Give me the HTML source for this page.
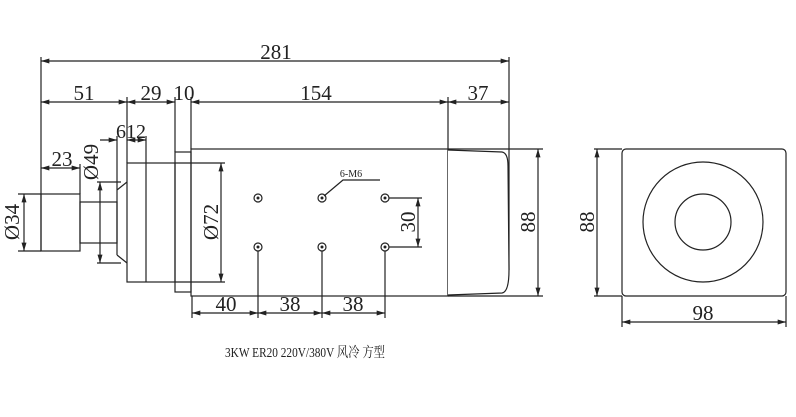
<!DOCTYPE html>
<html><head><meta charset="utf-8"><style>
html,body{margin:0;padding:0;background:#fff;}
svg{display:block;}
text{font-family:"Liberation Serif","Noto Serif CJK SC",serif;fill:#222;}
</style></head><body>
<svg width="796" height="417" viewBox="0 0 796 417" xmlns="http://www.w3.org/2000/svg">
<defs>
<marker id="a" viewBox="0 0 10 6" refX="10" refY="3" markerWidth="9" markerHeight="5" orient="auto-start-reverse" markerUnits="userSpaceOnUse"><path d="M0,0 L10,3 L0,6 Z" fill="#222"/></marker>
</defs>
<g stroke="#222" stroke-width="1.2" fill="none">
<!-- extension lines top -->
<line x1="41" y1="57" x2="41" y2="251"/>
<line x1="509" y1="57" x2="509" y2="270"/>
<line x1="127" y1="97" x2="127" y2="163"/>
<line x1="175" y1="97" x2="175" y2="152"/>
<line x1="191" y1="97" x2="191" y2="149"/>
<line x1="448" y1="97" x2="448" y2="296"/>
<line x1="146" y1="136" x2="146" y2="282"/>
<line x1="117" y1="136" x2="117" y2="190"/>
<line x1="80" y1="164" x2="80" y2="194"/>
<!-- dims top -->
<line x1="41" y1="61" x2="509" y2="61" marker-start="url(#a)" marker-end="url(#a)"/>
<line x1="41" y1="102" x2="127" y2="102" marker-start="url(#a)" marker-end="url(#a)"/>
<line x1="127" y1="102" x2="175" y2="102" marker-start="url(#a)" marker-end="url(#a)"/>
<line x1="191" y1="102" x2="200" y2="102" marker-start="url(#a)"/>
<line x1="200" y1="102" x2="448" y2="102" marker-end="url(#a)"/>
<line x1="448" y1="102" x2="509" y2="102" marker-start="url(#a)" marker-end="url(#a)"/>
<line x1="100" y1="140" x2="117" y2="140" marker-end="url(#a)"/>
<line x1="127" y1="140" x2="146" y2="140" marker-start="url(#a)" marker-end="url(#a)"/>
<line x1="41" y1="168" x2="80" y2="168" marker-start="url(#a)" marker-end="url(#a)"/>
<!-- collet & shaft -->
<rect x="41" y="194" width="39" height="57"/>
<rect x="80" y="202" width="37" height="41"/>
<path d="M117,190 L127,182 M117,255 L127,263 M117,190 L117,255"/>
<!-- front body -->
<rect x="127" y="163" width="48" height="119"/>
<rect x="175" y="152" width="16" height="140"/>
<rect x="191" y="149" width="257" height="147"/>
<line x1="448" y1="149" x2="543" y2="149"/>
<line x1="448" y1="296" x2="543" y2="296"/>
<line x1="175" y1="163" x2="225" y2="163"/>
<line x1="175" y1="282" x2="225" y2="282"/>
<path d="M448,150 L502,152 Q508,153 508,166 L509,270 Q509,292 502,293 L448,295" fill="#fff"/>
<!-- Ø34 -->
<line x1="18" y1="194" x2="41" y2="194"/>
<line x1="18" y1="251" x2="41" y2="251"/>
<line x1="24" y1="194" x2="24" y2="251" marker-start="url(#a)" marker-end="url(#a)"/>
<!-- Ø49 -->
<line x1="97" y1="182" x2="121" y2="182"/>
<line x1="97" y1="263" x2="121" y2="263"/>
<line x1="100" y1="182" x2="100" y2="263" marker-start="url(#a)" marker-end="url(#a)"/>
<!-- Ø72 -->
<line x1="221" y1="163" x2="221" y2="282" marker-start="url(#a)" marker-end="url(#a)"/>
<!-- 88 side -->
<line x1="538" y1="149" x2="538" y2="296" marker-start="url(#a)" marker-end="url(#a)"/>
<!-- holes -->
<g stroke-width="1.2">
<circle cx="258" cy="198" r="4"/><circle cx="322" cy="198" r="4"/><circle cx="385" cy="198" r="4"/>
<circle cx="258" cy="247" r="4"/><circle cx="322" cy="247" r="4"/><circle cx="385" cy="247" r="4"/>
</g>
<g fill="#222" stroke="none">
<circle cx="258" cy="198" r="1.5"/><circle cx="322" cy="198" r="1.5"/><circle cx="385" cy="198" r="1.5"/>
<circle cx="258" cy="247" r="1.5"/><circle cx="322" cy="247" r="1.5"/><circle cx="385" cy="247" r="1.5"/>
</g>
<!-- 6-M6 leader -->
<path d="M324,196 L343,180 L380,180"/>
<!-- 30 dim -->
<line x1="389" y1="198" x2="422" y2="198"/>
<line x1="389" y1="247" x2="422" y2="247"/>
<line x1="418" y1="198" x2="418" y2="247" marker-start="url(#a)" marker-end="url(#a)"/>
<!-- bottom dims -->
<line x1="192" y1="296" x2="192" y2="318"/>
<line x1="258" y1="251" x2="258" y2="318"/>
<line x1="322" y1="251" x2="322" y2="318"/>
<line x1="385" y1="251" x2="385" y2="318"/>
<line x1="192" y1="313" x2="258" y2="313" marker-start="url(#a)" marker-end="url(#a)"/>
<line x1="258" y1="313" x2="322" y2="313" marker-start="url(#a)" marker-end="url(#a)"/>
<line x1="322" y1="313" x2="385" y2="313" marker-start="url(#a)" marker-end="url(#a)"/>
<!-- end view -->
<rect x="622" y="149" width="164" height="147" rx="4"/>
<circle cx="703" cy="222" r="60"/>
<circle cx="703" cy="222" r="28"/>
<line x1="594" y1="149" x2="622" y2="149"/>
<line x1="594" y1="296" x2="622" y2="296"/>
<line x1="597" y1="149" x2="597" y2="296" marker-start="url(#a)" marker-end="url(#a)"/>
<line x1="622" y1="296" x2="622" y2="327"/>
<line x1="786" y1="296" x2="786" y2="327"/>
<line x1="622" y1="322" x2="786" y2="322" marker-start="url(#a)" marker-end="url(#a)"/>
</g>
<g font-size="21" text-anchor="middle">
<text x="276" y="59">281</text>
<text x="84" y="100">51</text>
<text x="151" y="100">29</text>
<text x="184" y="100">10</text>
<text x="316" y="100">154</text>
<text x="478" y="100">37</text>
<text x="131" y="138" font-size="20">612</text>
<text x="62" y="166">23</text>
<text x="226" y="311">40</text>
<text x="290" y="311">38</text>
<text x="353" y="311">38</text>
<text x="703" y="320">98</text>
<text transform="translate(19,222) rotate(-90)">Ø34</text>
<text transform="translate(98,162) rotate(-90)">Ø49</text>
<text transform="translate(218,222) rotate(-90)">Ø72</text>
<text transform="translate(415,222) rotate(-90)">30</text>
<text transform="translate(535,222) rotate(-90)">88</text>
<text transform="translate(594,222) rotate(-90)">88</text>
</g>
<text x="351" y="177" font-size="10" text-anchor="middle">6-M6</text>
<text x="225" y="357" font-size="14" textLength="160" lengthAdjust="spacingAndGlyphs">3KW ER20 220V/380V 风冷 方型</text>
</svg>
</body></html>
